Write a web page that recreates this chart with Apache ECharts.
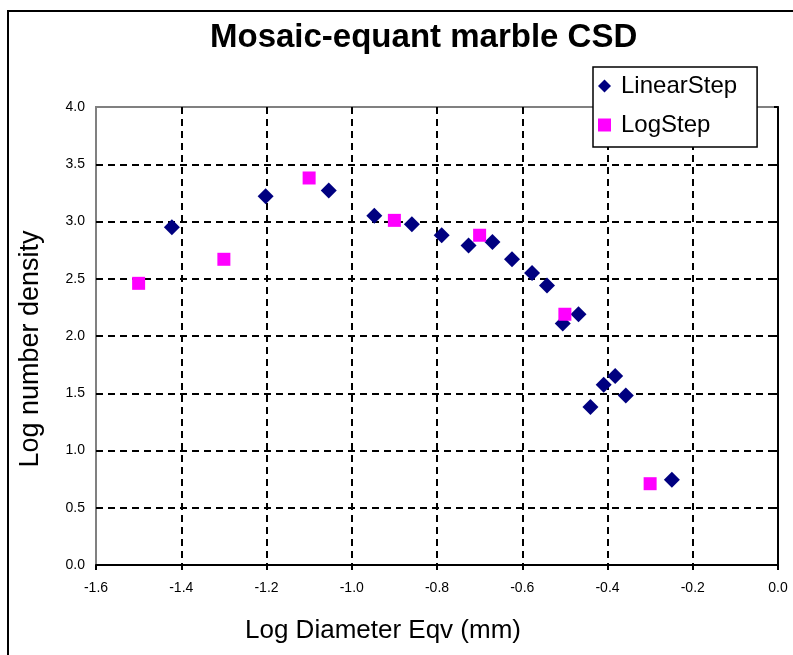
<!DOCTYPE html>
<html>
<head>
<meta charset="utf-8">
<script src="https://cdn.jsdelivr.net/npm/echarts@6/dist/echarts.min.js"></script>
<style>
  html, body { margin: 0; padding: 0; background: #fff; }
  #main { width: 793px; height: 655px; }
</style>
</head>
<body>
<div id="main"></div>
<script>
// values
var linearX = [-1.422, -1.202, -1.054, -0.947, -0.859, -0.789, -0.726, -0.670, -0.624,
  -0.577, -0.542, -0.505, -0.468, -0.440, -0.409, -0.382, -0.357, -0.249];
var linearY = [2.95, 3.22, 3.27, 3.05, 2.975, 2.88, 2.79, 2.82, 2.67,
  2.55, 2.44, 2.11, 2.19, 1.38, 1.575, 1.65, 1.48, 0.745];
var logX = [-1.5, -1.3, -1.1, -0.9, -0.7, -0.5, -0.3];
var logY = [2.46, 2.67, 3.38, 3.01, 2.88, 2.19, 0.71];

function pairs(xs, ys) {
  return xs.map(function (x, i) { return [x, ys[i]]; });
}

var font = 'Liberation Sans, Arial, sans-serif';
var dashed = { color: '#000', width: 2, type: [7, 5] };

var myChart = echarts.init(document.getElementById('main'));
var option = {
  backgroundColor: '#fff',
  animation: false,
  textStyle: { fontFamily: font },
  title: {
    text: 'Mosaic-equant marble CSD',
    left: 210,
    top: 21,
    padding: 0,
    textStyle: { fontSize: 33, fontWeight: 'bold', color: '#000', fontFamily: font }
  },
  legend: {
    orient: 'vertical',
    left: 593,
    top: 67,
    padding: [5, 20, 8, 5],
    itemGap: 11,
    itemWidth: 13,
    itemHeight: 13,
    borderColor: '#000',
    borderWidth: 1.5,
    backgroundColor: '#fff',
    textStyle: { fontSize: 24, color: '#000', lineHeight: 28, padding: [0, 0, 0, 5], fontFamily: font },
    data: ['LinearStep', 'LogStep']
  },
  grid: {
    left: 96,
    right: 15,
    top: 107,
    bottom: 90,
    show: true,
    borderColor: '#808080',
    borderWidth: 2,
    backgroundColor: '#fff'
  },
  xAxis: {
    type: 'value',
    min: -1.6,
    max: 0,
    interval: 0.2,
    name: 'Log Diameter Eqv (mm)',
    nameLocation: 'middle',
    nameGap: 53,
    nameTextStyle: { fontSize: 26, color: '#000', padding: [0, 108, 0, 0], fontFamily: font },
    axisLine: { lineStyle: { color: '#000', width: 2 } },
    axisTick: { length: 5, lineStyle: { color: '#000', width: 2 } },
    axisLabel: {
      fontSize: 14, color: '#000', margin: 16,
      formatter: function (v) { return v.toFixed(1); }
    },
    splitLine: { show: true, showMinLine: false, showMaxLine: false, lineStyle: dashed }
  },
  yAxis: {
    type: 'value',
    min: 0,
    max: 4,
    interval: 0.5,
    name: 'Log number density',
    nameLocation: 'middle',
    nameGap: 52,
    nameTextStyle: { fontSize: 27, color: '#000', padding: [0, 26, 0, 0], fontFamily: font },
    axisLine: { show: true, lineStyle: { color: '#000', width: 2 } },
    axisTick: { show: true, length: 4, lineStyle: { color: '#000', width: 2 } },
    axisLabel: {
      fontSize: 14, color: '#000', margin: 11,
      formatter: function (v) { return v.toFixed(1); }
    },
    splitLine: { show: true, showMinLine: false, showMaxLine: false, lineStyle: dashed }
  },
  graphic: [
    {
      type: 'rect',
      shape: { x: 8, y: 11, width: 900, height: 800 },
      style: { fill: null, stroke: '#000', lineWidth: 2 },
      silent: true,
      z: 100
    }
  ],
  series: [
    {
      name: 'LinearStep',
      type: 'scatter',
      symbol: 'diamond',
      symbolSize: 16,
      itemStyle: { color: '#000080', opacity: 1 },
      data: pairs(linearX, linearY)
    },
    {
      name: 'LogStep',
      type: 'scatter',
      symbol: 'rect',
      symbolSize: 13,
      itemStyle: { color: '#ff00ff', opacity: 1 },
      data: pairs(logX, logY)
    }
  ]
};
myChart.setOption(option);
</script>
</body>
</html>
